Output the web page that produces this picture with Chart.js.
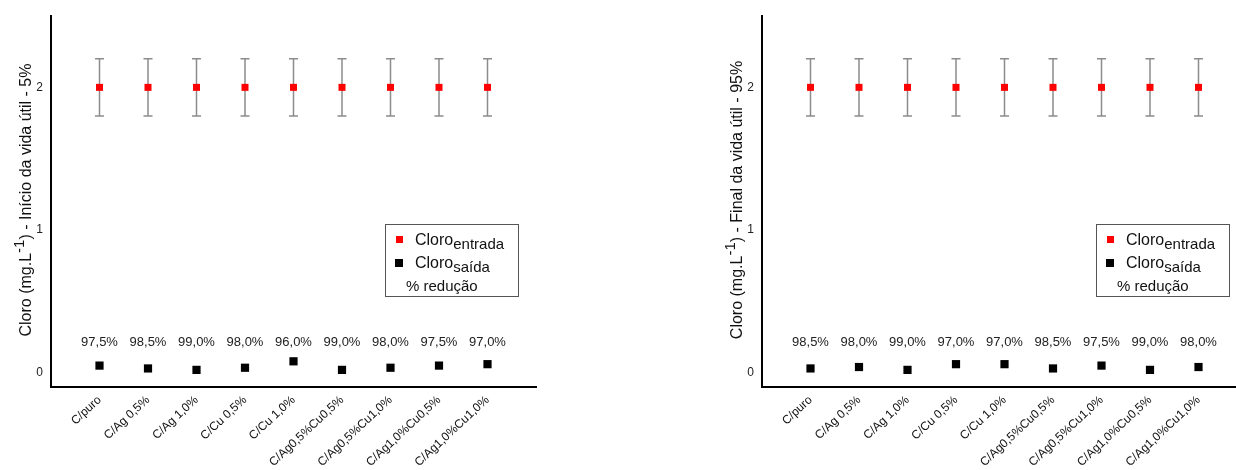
<!DOCTYPE html>
<html>
<head>
<meta charset="utf-8">
<script src="https://cdn.jsdelivr.net/npm/chart.js@4/dist/chart.umd.min.js"></script>
<style>
  html, body { margin: 0; padding: 0; background: #fff; overflow: hidden; }
  body { width: 1236px; height: 470px; position: relative; }
  .box { position: absolute; top: 0; width: 560px; height: 470px; }
  #boxInicio { left: 0; }
  #boxFinal { left: 711px; }
</style>
</head>
<body>
<div class="box" id="boxInicio"><canvas id="chartInicio"></canvas></div>
<div class="box" id="boxFinal"><canvas id="chartFinal"></canvas></div>
<script>
// categorias (eixo x)
var categories = ['C/puro', 'C/Ag 0,5%', 'C/Ag 1,0%', 'C/Cu 0,5%', 'C/Cu 1,0%',
    'C/Ag0,5%Cu0,5%', 'C/Ag0,5%Cu1,0%', 'C/Ag1,0%Cu0,5%', 'C/Ag1,0%Cu1,0%'];
var yTicks = [0, 1, 2];

// inicio da vida util - 5%
var entradaInicio = [2, 2, 2, 2, 2, 2, 2, 2, 2];
var erroInicio = [0.2, 0.2, 0.2, 0.2, 0.2, 0.2, 0.2, 0.2, 0.2];
var saidaInicio = [0.05, 0.03, 0.02, 0.035, 0.08, 0.02, 0.035, 0.05, 0.06];
var reducaoInicio = ['97,5%', '98,5%', '99,0%', '98,0%', '96,0%', '99,0%', '98,0%', '97,5%', '97,0%'];

// final da vida util - 95%
var entradaFinal = [2, 2, 2, 2, 2, 2, 2, 2, 2];
var erroFinal = [0.2, 0.2, 0.2, 0.2, 0.2, 0.2, 0.2, 0.2, 0.2];
var saidaFinal = [0.03, 0.04, 0.02, 0.06, 0.06, 0.03, 0.05, 0.02, 0.04];
var reducaoFinal = ['98,5%', '98,0%', '99,0%', '97,0%', '97,0%', '98,5%', '97,5%', '99,0%', '98,0%'];

var FONT = 'Arial, "Liberation Sans", sans-serif';

function toPoints(arr) {
    return arr.map(function (v, i) { return { x: i + 1, y: v }; });
}

// barras de erro, rotulos de % e legenda
var extrasPlugin = {
    id: 'extras',
    afterDatasetsDraw: function (chart, args, opts) {
        var ctx = chart.ctx, xs = chart.scales.x, ys = chart.scales.y, area = chart.chartArea;
        ctx.save();
        // error bars + red markers
        ctx.strokeStyle = '#8c8c8c';
        ctx.lineWidth = 1.5;
        opts.entrada.forEach(function (v, i) {
            var x = xs.getPixelForValue(i + 1);
            var yTop = ys.getPixelForValue(v + opts.erro[i]);
            var yBot = ys.getPixelForValue(v - opts.erro[i]);
            ctx.beginPath();
            ctx.moveTo(x, yTop); ctx.lineTo(x, yBot);
            ctx.moveTo(x - 4.5, yTop); ctx.lineTo(x + 4.5, yTop);
            ctx.moveTo(x - 4.5, yBot); ctx.lineTo(x + 4.5, yBot);
            ctx.stroke();
            var y = ys.getPixelForValue(v);
            ctx.fillStyle = '#ff0000';
            ctx.fillRect(x - 3.5, y - 3.5, 7, 7);
        });

        // % reducao labels
        ctx.fillStyle = '#222';
        ctx.font = '13px ' + FONT;
        ctx.textAlign = 'center';
        ctx.textBaseline = 'middle';
        opts.reducao.forEach(function (t, i) {
            ctx.fillText(t, xs.getPixelForValue(i + 1), ys.getPixelForValue(0.21));
        });

        // legend box
        var lx = area.left + 334, ly = 224;
        ctx.strokeStyle = '#555';
        ctx.lineWidth = 1;
        ctx.strokeRect(lx + 0.5, ly + 0.5, 133, 72);
        ctx.textAlign = 'left';
        ctx.textBaseline = 'alphabetic';
        ctx.fillStyle = '#ff0000';
        ctx.fillRect(lx + 11, ly + 12, 7, 7);
        ctx.fillStyle = '#000';
        ctx.fillRect(lx + 10, ly + 35, 8, 8);
        ctx.fillStyle = '#111';
        ctx.font = '16px ' + FONT;
        ctx.fillText('Cloro', lx + 30, ly + 21);
        ctx.fillText('Cloro', lx + 30, ly + 44);
        var w = ctx.measureText('Cloro').width;
        ctx.font = '15px ' + FONT;
        ctx.fillText('entrada', lx + 30 + w, ly + 25);
        ctx.fillText('saída', lx + 30 + w, ly + 48);
        ctx.font = '15px ' + FONT;
        ctx.fillText('% redução', lx + 21, ly + 67);

        // y axis title with superscript
        var parts = [['Cloro (mg.L', 16, 0], ['-1', 15, -7], [opts.titulo, 16, 0]];
        var total = 0;
        parts.forEach(function (p) { ctx.font = p[1] + 'px ' + FONT; total += ctx.measureText(p[0]).width; });
        ctx.translate(area.left - 24, 200);
        ctx.rotate(-Math.PI / 2);
        ctx.textBaseline = 'middle';
        var cx = -total / 2;
        parts.forEach(function (p) {
            ctx.font = p[1] + 'px ' + FONT;
            ctx.fillText(p[0], cx, p[2]);
            cx += ctx.measureText(p[0]).width;
        });
        ctx.restore();
    }
};

function makeChart(id, entrada, erro, saida, reducao, titulo) {
    var ctx = document.getElementById(id);
    if (!ctx) return;
    return new Chart(ctx, {
        type: 'scatter',
        data: {
            datasets: [
                {
                    label: 'Cloro saida',
                    data: toPoints(saida),
                    pointStyle: 'rect',
                    pointRadius: 5.8,
                    pointHoverRadius: 5.8,
                    backgroundColor: '#000',
                    borderColor: '#000',
                    borderWidth: 0
                }
            ]
        },
        options: {
            responsive: false,
            animation: false,
            events: [],
            layout: { padding: { top: 16, left: 0, right: 24, bottom: 0 } },
            plugins: {
                legend: { display: false },
                tooltip: { enabled: false },
                extras: { entrada: entrada, erro: erro, reducao: reducao, titulo: titulo }
            },
            scales: {
                x: {
                    type: 'linear',
                    min: 0,
                    max: 10,
                    grid: { display: false, drawTicks: false },
                    border: { display: true, color: '#000', width: 2 },
                    afterBuildTicks: function (scale) {
                        scale.ticks = categories.map(function (c, i) { return { value: i + 1 }; });
                    },
                    afterFit: function (scale) { scale.height = 83; },
                    ticks: {
                        autoSkip: false,
                        minRotation: 43,
                        maxRotation: 43,
                        padding: 6,
                        color: '#111',
                        font: { family: FONT, size: 12 },
                        callback: function (v) { return categories[v - 1] || ''; }
                    }
                },
                y: {
                    min: -0.1,
                    max: 2.5,
                    grid: { display: false, drawTicks: false },
                    border: { display: true, color: '#000', width: 2 },
                    afterBuildTicks: function (scale) {
                        scale.ticks = yTicks.map(function (v) { return { value: v }; });
                    },
                    afterFit: function (scale) { scale.width = 51; },
                    ticks: {
                        padding: 8,
                        color: '#222',
                        font: { family: FONT, size: 12 }
                    }
                }
            }
        },
        plugins: [extrasPlugin]
    });
}

try {
    var c1 = document.getElementById('chartInicio');
    c1.width = 560; c1.height = 470;
    makeChart('chartInicio', entradaInicio, erroInicio, saidaInicio, reducaoInicio, ') - Início da vida útil - 5%');
} catch (error) {
    console.log(error);
}

try {
    var c2 = document.getElementById('chartFinal');
    c2.width = 560; c2.height = 470;
    makeChart('chartFinal', entradaFinal, erroFinal, saidaFinal, reducaoFinal, ') - Final da vida útil - 95%');
} catch (error) {
    console.log(error);
}
</script>
</body>
</html>
